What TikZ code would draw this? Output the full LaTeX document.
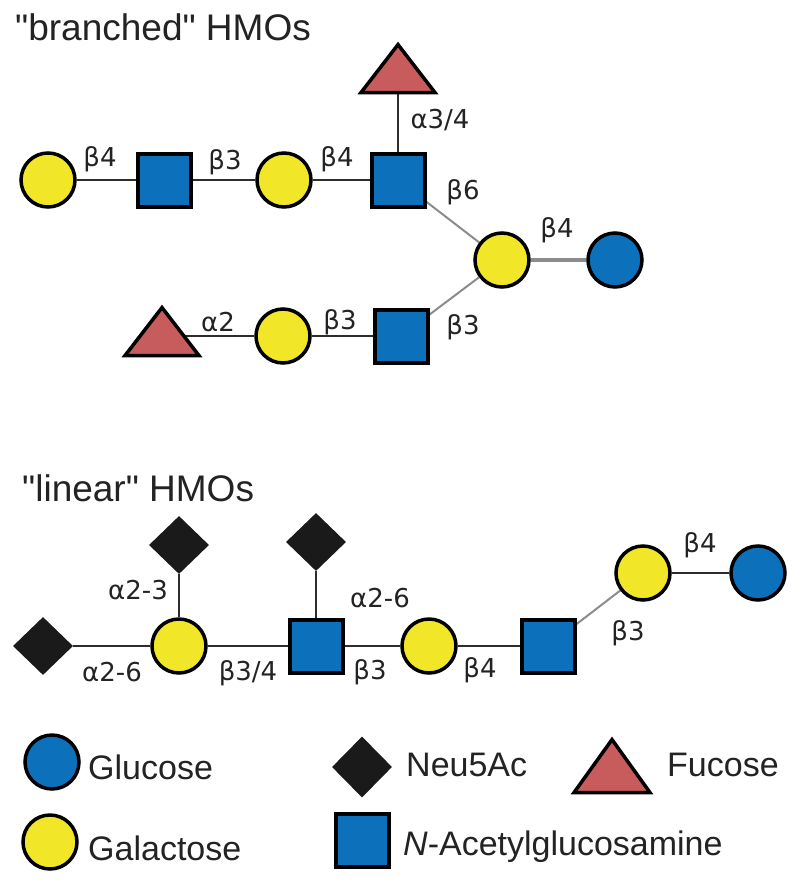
\documentclass[tikz,border=0pt]{standalone}
\usepackage{fontspec}
\setmainfont{Liberation Sans}[Ligatures=TeXOff]
\newfontfamily\lblfont{DejaVu Sans}
\usetikzlibrary{shapes.geometric}
\pgfdeclarelayer{bg}
\pgfsetlayers{bg,main}
\definecolor{galyellow}{RGB}{242,230,40}
\definecolor{glcblue}{RGB}{12,112,186}
\definecolor{fucred}{RGB}{200,92,92}
\definecolor{neublack}{RGB}{26,26,26}
\definecolor{linkdark}{RGB}{45,45,45}
\definecolor{linkgray}{RGB}{140,140,140}
\definecolor{txtdark}{RGB}{35,35,35}
\tikzset{
  gal/.style={circle, draw=black, line width=3.5pt, fill=galyellow, minimum size=54pt, inner sep=0pt},
  glc/.style={circle, draw=black, line width=3.5pt, fill=glcblue, minimum size=54pt, inner sep=0pt},
  glcnac/.style={rectangle, draw=black, line width=4pt, fill=glcblue, minimum size=53pt, inner sep=0pt},
  neu/.style={diamond, fill=neublack, minimum width=60pt, minimum height=58pt, inner sep=0pt},
  fuc/.style={isosceles triangle, isosceles triangle stretches, shape border rotate=90,
              draw=black, line width=3.5pt, fill=fucred, minimum width=74pt, minimum height=48pt, inner sep=0pt},
  link/.style={draw=linkdark, line width=2.5pt},
  glink/.style={draw=linkgray, line width=2pt},
  lbl/.style={font=\lblfont\fontsize{26}{28}\selectfont, text=txtdark, inner sep=0pt},
  ttl/.style={font=\fontsize{37}{40}\selectfont, text=txtdark, anchor=west, inner sep=0pt},
  leg/.style={font=\fontsize{34}{36}\selectfont, text=txtdark, anchor=west, inner sep=0pt}
}
\begin{document}
\begin{tikzpicture}[x=1pt, y=-1pt]
\begin{pgfonlayer}{bg}
\fill[white] (0,0) rectangle (800,884);
\end{pgfonlayer}
\useasboundingbox (0,0) rectangle (800,884);

% ---------- branched ----------
\node[ttl] (t1) at (15,27) {"branched" HMOs};
\node[gal] (gA) at (48,180) {};
\node[glcnac] (nA) at (164,180) {};
\node[gal] (gB) at (284,180) {};
\node[glcnac] (nB) at (398,180) {};
\node[fuc, anchor=apex] (fA) at (398,40) {};
\node[gal] (gC) at (502,260) {};
\node[glc] (cA) at (615,260) {};
\node[fuc, anchor=apex] (fB) at (162,303) {};
\node[gal] (gD) at (283,336) {};
\node[glcnac] (nC) at (401,336) {};

\begin{pgfonlayer}{bg}
\draw[link] (gA) -- (nA);
\draw[link] (nA) -- (gB);
\draw[link] (gB) -- (nB);
\draw[link] (fA.lower side) -- (nB);
\draw[glink] (nB) -- (gC);
\draw[draw=linkgray, line width=3.5pt] (gC) -- (cA);
\draw[glink] (nC) -- (gC);
\draw[link] (gD -| fB.apex) -- (gD);
\draw[link] (gD) -- (nC);
\end{pgfonlayer}

\node[lbl] (l1) at (100,159) {β4};
\node[lbl] (l2) at (225,162) {β3};
\node[lbl] (l3) at (337,159) {β4};
\node[lbl] (l4) at (440,120) {α3/4};
\node[lbl] (l5) at (463,192) {β6};
\node[lbl] (l6) at (557,230) {β4};
\node[lbl] (l7) at (218,322) {α2};
\node[lbl] (l8) at (340,322) {β3};
\node[lbl] (l9) at (463,327) {β3};

% ---------- linear ----------
\node[ttl] (t2) at (22,488) {"linear" HMOs};
\node[neu] (dA) at (43,646) {};
\node[gal] (gE) at (179,646) {};
\node[neu] (dB) at (179,545) {};
\node[glcnac] (nD) at (316,646) {};
\node[neu] (dC) at (316,542) {};
\node[gal] (gF) at (429,646) {};
\node[glcnac] (nE) at (548,646) {};
\node[gal] (gG) at (643,573) {};
\node[glc] (cB) at (758,573) {};

\begin{pgfonlayer}{bg}
\draw[link] (dA) -- (gE);
\draw[link] (dB) -- (gE);
\draw[link] (gE) -- (nD);
\draw[link] (dC) -- (nD);
\draw[link] (nD) -- (gF);
\draw[link] (gF) -- (nE);
\draw[glink] (nE) -- (gG);
\draw[link] (gG) -- (cB);
\end{pgfonlayer}

\node[lbl] (m1) at (138,590) {α2-3};
\node[lbl] (m2) at (112,672) {α2-6};
\node[lbl] (m3) at (248,673) {β3/4};
\node[lbl] (m4) at (380,598) {α2-6};
\node[lbl] (m5) at (370,672) {β3};
\node[lbl] (m6) at (480,670) {β4};
\node[lbl] (m7) at (628,633) {β3};
\node[lbl] (m8) at (700,545) {β4};

% ---------- legend ----------
\node[glc] (kGlc) at (52,762) {};
\node[leg] (kGlcT) at (88,767) {Glucose};
\node[gal] (kGal) at (50,842) {};
\node[leg] (kGalT) at (88,848) {Galactose};
\node[neu, minimum height=61pt] (kNeu) at (362,767) {};
\node[leg] (kNeuT) at (406,765) {Neu5Ac};
\node[fuc, anchor=apex, minimum width=76pt, minimum height=53pt] (kFuc) at (612,735) {};
\node[leg] (kFucT) at (667,765) {Fucose};
\node[glcnac] (kNac) at (362,840) {};
\node[leg] (kNacT) at (403,847) {\textit{N}-Acetylglucosamine};
\end{tikzpicture}
\end{document}
